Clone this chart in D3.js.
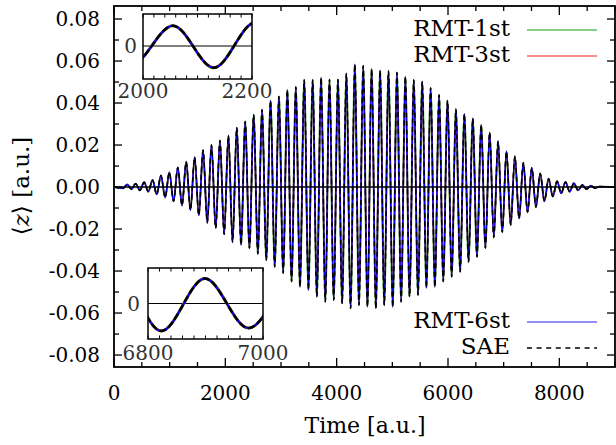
<!DOCTYPE html>
<html>
<head>
<meta charset="utf-8">
<script src="https://cdn.jsdelivr.net/npm/d3@7"></script>
<style>
  body { margin: 0; background: #fff; }
  svg { display: block; }
</style>
</head>
<body>
<svg id="chart" width="616" height="445"></svg>
<script>
// Turning points of the dipole expectation value <z>(t) (time in a.u.)
const extremaTime = [
  0, 162, 238, 314, 389, 465, 541, 616, 692, 768, 843, 919, 994, 1070, 1146, 1222,
  1297, 1373, 1449, 1524, 1600, 1676, 1751, 1827, 1903, 1979, 2055, 2130, 2206, 2282,
  2357, 2433, 2509, 2584, 2660, 2736, 2812, 2887, 2963, 3039, 3114, 3190, 3266, 3341,
  3417, 3493, 3569, 3644, 3720, 3796, 3871, 3947, 4023, 4098, 4174, 4250, 4326, 4401,
  4477, 4553, 4628, 4704, 4780, 4855, 4931, 5007, 5083, 5158, 5234, 5309, 5385, 5461,
  5537, 5612, 5688, 5764, 5840, 5915, 5991, 6066, 6142, 6218, 6294, 6369, 6445, 6520,
  6596, 6672, 6748, 6823, 6899, 6975, 7050, 7126, 7202, 7277, 7353, 7429, 7505, 7580,
  7656, 7732, 7807, 7883, 7959, 8034, 8110, 8186, 8261, 8337, 8413, 8488, 8564, 8640,
  8715, 9000
];
// SAE values at those times
const zSAE = [
  0, -0.0006, 0.0012, -0.0010, 0.0016, -0.0016, 0.0023, -0.0022, 0.0033, -0.0035, 0.0055, -0.0050, 0.0070, -0.0068, 0.0093, -0.0088,
  0.0120, -0.0110, 0.0142, -0.0135, 0.0175, -0.0170, 0.0200, -0.0195, 0.0222, -0.0225, 0.0245, -0.0262, 0.0283, -0.0275,
  0.0312, -0.0292, 0.0344, -0.0318, 0.0368, -0.0348, 0.0412, -0.0380, 0.0431, -0.0410, 0.0462, -0.0450, 0.0476, -0.0475,
  0.0510, -0.0490, 0.0510, -0.0522, 0.0520, -0.0546, 0.0512, -0.0538, 0.0512, -0.0554, 0.0540, -0.0578, 0.0584, -0.0562,
  0.0578, -0.0570, 0.0562, -0.0578, 0.0555, -0.0562, 0.0552, -0.0570, 0.0545, -0.0546, 0.0525, -0.0522, 0.0510, -0.0514,
  0.0502, -0.0480, 0.0472, -0.0475, 0.0438, -0.0450, 0.0412, -0.0427, 0.0370, -0.0403, 0.0348, -0.0356, 0.0326, -0.0332,
  0.0296, -0.0290, 0.0260, -0.0240, 0.0218, -0.0215, 0.0170, -0.0180, 0.0146, -0.0150, 0.0115, -0.0120, 0.0091, -0.0095,
  0.0065, -0.0068, 0.0040, -0.0045, 0.0028, -0.0030, 0.0024, -0.0022, 0.0018, -0.0016, 0.0010, -0.0010, 0.0006, -0.0005,
  0.0002, 0
];
// The RMT runs coincide with the SAE curve at this resolution
const zRMT1 = zSAE;
const zRMT3 = zSAE;
const zRMT6 = zSAE;

const seriesNames = ["RMT-1st", "RMT-3st", "RMT-6st", "SAE"];
const seriesData = [zRMT1, zRMT3, zRMT6, zSAE];
const seriesColors = ["#1fa51f", "#ee2a2a", "#0000ff", "#000000"];
const legendColors = ["#5cc05c", "#f06a6a", "#6a6af5", "#000000"];

const xTickLabels = [0, 2000, 4000, 6000, 8000];
const yTickLabels = [0.08, 0.06, 0.04, 0.02, 0.00, -0.02, -0.04, -0.06, -0.08];
const inset1Window = [2000, 2200];
const inset2Window = [6800, 7000];

const svg = d3.select("#chart");
const FONT = "'DejaVu Serif', 'Liberation Serif', serif";

const x = d3.scaleLinear().domain([0, 9000]).range([114, 615]);
const y = d3.scaleLinear().domain([-0.0857, 0.0862]).range([367, 6]);

const defs = svg.append("defs");
defs.append("clipPath").attr("id", "plotClip")
  .append("rect").attr("x", 114).attr("y", 6).attr("width", 501).attr("height", 361);

const points = d => extremaTime.map((t, i) => [t, d[i]]);

// line styles: [width, dash] for the main panel and for the insets
const mainStyle = [[1.9, null], [1.6, null], [1.45, null], [1.5, "5,3.5"]];
const insetStyle = [[3.0, null], [2.5, null], [2.0, null], [2.4, "7,3"]];

function drawSeries(g, xs, ys, styles) {
  const line = d3.line().x(d => xs(d[0])).y(d => ys(d[1])).curve(d3.curveMonotoneX);
  seriesData.forEach((d, i) => {
    g.append("path")
      .attr("d", line(points(d)))
      .attr("fill", "none")
      .attr("stroke", seriesColors[i])
      .attr("stroke-width", styles[i][0])
      .attr("stroke-dasharray", styles[i][1]);
  });
}

// main panel curves
const plot = svg.append("g").attr("clip-path", "url(#plotClip)");
drawSeries(plot, x, y, mainStyle);
plot.append("line")
  .attr("x1", x(0)).attr("x2", x(9000)).attr("y1", y(0)).attr("y2", y(0))
  .attr("stroke", "#000").attr("stroke-width", 1.4);

// axes: ticks pointing inward on all four sides
const xMinor = d3.range(0, 9001, 500);
const yMinor = d3.range(-8, 9).map(v => v / 100);
const axes = svg.append("g").attr("stroke", "#000").attr("stroke-width", 1.3);
xMinor.forEach(v => {
  const len = v % 2000 === 0 ? 9 : 5;
  axes.append("line").attr("x1", x(v)).attr("x2", x(v)).attr("y1", 367).attr("y2", 367 - len);
  axes.append("line").attr("x1", x(v)).attr("x2", x(v)).attr("y1", 6).attr("y2", 6 + len);
});
yMinor.forEach((v, i) => {
  const len = i % 2 === 0 ? 8 : 5;
  axes.append("line").attr("x1", 114).attr("x2", 114 + len).attr("y1", y(v)).attr("y2", y(v));
  axes.append("line").attr("x1", 615).attr("x2", 615 - len).attr("y1", y(v)).attr("y2", y(v));
});
svg.append("rect").attr("x", 114).attr("y", 6).attr("width", 501).attr("height", 361)
  .attr("fill", "none").attr("stroke", "#000").attr("stroke-width", 1.8);

// tick labels
xTickLabels.forEach(v => {
  svg.append("text").attr("x", x(v)).attr("y", 400).attr("text-anchor", "middle")
    .attr("font-family", FONT).attr("font-size", 20).text(v);
});
yTickLabels.forEach(v => {
  svg.append("text").attr("x", 100).attr("y", y(v) + 7).attr("text-anchor", "end")
    .attr("font-family", FONT).attr("font-size", 20).text(v.toFixed(2));
});

// axis titles
svg.append("text").attr("x", 365).attr("y", 433).attr("text-anchor", "middle")
  .attr("font-family", FONT).attr("font-size", 22).text("Time [a.u.]");
const yt = svg.append("text").attr("transform", "translate(29,186) rotate(-90)")
  .attr("text-anchor", "middle").attr("font-family", FONT).attr("font-size", 23);
yt.append("tspan").attr("font-family", "'DejaVu Sans', sans-serif").text("\u27E8");
yt.append("tspan").attr("font-style", "italic").text("z");
yt.append("tspan").attr("font-family", "'DejaVu Sans', sans-serif").text("\u27E9");
yt.append("tspan").text(" [a.u.]");

// legend
const legendRows = [
  { i: 0, base: 36 }, { i: 1, base: 62 }, { i: 2, base: 328 }, { i: 3, base: 354 }
];
legendRows.forEach(r => {
  svg.append("text").attr("x", 510).attr("y", r.base).attr("text-anchor", "end")
    .attr("font-family", FONT).attr("font-size", 23).text(seriesNames[r.i]);
  svg.append("line").attr("x1", 527).attr("x2", 597).attr("y1", r.base - 6).attr("y2", r.base - 6)
    .attr("stroke", legendColors[r.i]).attr("stroke-width", r.i === 3 ? 1.3 : 1.6)
    .attr("stroke-dasharray", r.i === 3 ? "5,4.6" : null);
});

// zoomed insets
function inset(id, win, yDom, box, labelBase, labelShift, zeroRight) {
  const xs = d3.scaleLinear().domain(win).range([box.x0, box.x1]);
  const ys = d3.scaleLinear().domain(yDom).range([box.y1, box.y0]);
  const w = box.x1 - box.x0, h = box.y1 - box.y0;
  svg.append("rect").attr("x", box.x0).attr("y", box.y0).attr("width", w).attr("height", h).attr("fill", "#fff");
  defs.append("clipPath").attr("id", id)
    .append("rect").attr("x", box.x0).attr("y", box.y0).attr("width", w).attr("height", h);
  const g = svg.append("g").attr("clip-path", `url(#${id})`);
  g.append("line").attr("x1", box.x0).attr("x2", box.x1).attr("y1", ys(0)).attr("y2", ys(0))
    .attr("stroke", "#000").attr("stroke-width", 1.1);
  drawSeries(g, xs, ys, insetStyle);
  const ticks = svg.append("g").attr("stroke", "#000").attr("stroke-width", 1);
  d3.range(win[0], win[1] + 1, 20).forEach(v => {
    ticks.append("line").attr("x1", xs(v)).attr("x2", xs(v)).attr("y1", box.y1).attr("y2", box.y1 - 3.5);
    ticks.append("line").attr("x1", xs(v)).attr("x2", xs(v)).attr("y1", box.y0).attr("y2", box.y0 + 3.5);
  });
  svg.append("rect").attr("x", box.x0).attr("y", box.y0).attr("width", w).attr("height", h)
    .attr("fill", "none").attr("stroke", "#000").attr("stroke-width", 1.5);
  win.forEach((v, k) => {
    svg.append("text").attr("x", xs(v)).attr("dx", labelShift[k]).attr("y", labelBase)
      .attr("text-anchor", "middle").attr("font-family", FONT).attr("font-size", 20)
      .attr("fill", "#333").text(v);
  });
  svg.append("text").attr("x", zeroRight).attr("y", ys(0) + 7).attr("text-anchor", "end")
    .attr("font-family", FONT).attr("font-size", 20).attr("fill", "#333").text("0");
}

inset("inset1", inset1Window, [-0.0398, 0.0386], { x0: 143, x1: 252, y0: 14, y1: 79 }, 98, [0, -5], 137);
inset("inset2", inset2Window, [-0.031, 0.031], { x0: 148, x1: 263, y0: 268, y1: 339 }, 360, [0, 0], 140);
</script>
</body>
</html>
